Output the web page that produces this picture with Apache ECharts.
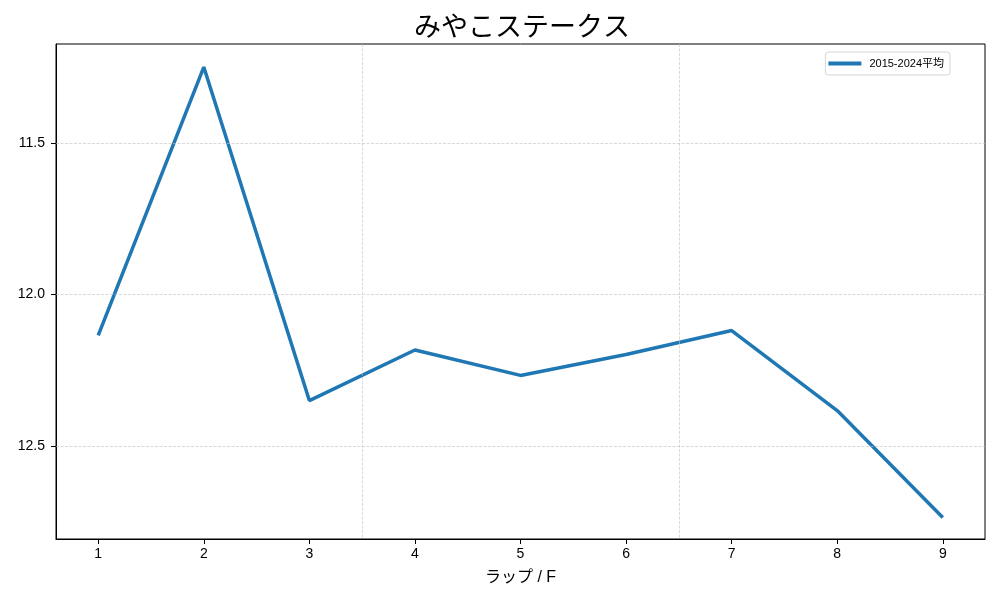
<!DOCTYPE html>
<html>
<head>
<meta charset="utf-8">
<script src="https://cdn.jsdelivr.net/npm/echarts@6/dist/echarts.min.js"></script>
<style>html,body{margin:0;padding:0;background:#fff}#c{width:1000px;height:600px}</style>
</head>
<body>
<div id="c"></div>
<script>
const laps = [1, 2, 3, 4, 5, 6, 7, 8, 9];
const avgTimes = [12.135, 11.249, 12.350, 12.183, 12.267, 12.198, 12.119, 12.383, 12.736];
const yTicks = [11.5, 12.0, 12.5];
const xGridLines = [3.5, 6.5];
const seriesName = '2015-2024平均';
const titleText = 'みやこステークス';
const xName = 'ラップ / F';

const FONT = '"Liberation Sans", "Noto Sans CJK JP", sans-serif';
const chart = echarts.init(document.getElementById('c'), null, {renderer: 'canvas'});
const gridStyle = {type: [3, 1.5], color: '#c0c0c0', width: 0.6};
chart.setOption({
  animation: false,
  backgroundColor: '#fff',
  title: {
    text: titleText, left: 517, top: 10, textAlign: 'center',
    textStyle: {fontFamily: FONT, fontSize: 27, fontWeight: 'normal', color: '#000'}
  },
  legend: {
    data: [{name: seriesName, icon: 'rect'}], right: 50, top: 52,
    orient: 'vertical',
    borderColor: '#d5d5d5', borderWidth: 1, borderRadius: 3,
    padding: [6, 6, 6, 3], backgroundColor: '#fff',
    itemWidth: 33, itemHeight: 4, itemGap: 5,
    textStyle: {fontFamily: FONT, fontSize: 11, color: '#000', padding: [0, 0, 0, 3]}
  },
  grid: {left: 56, right: 15, top: 44, bottom: 61, show: true, borderColor: '#000', borderWidth: 1, backgroundColor: 'transparent'},
  xAxis: {
    type: 'value', min: 0.6, max: 9.4,
    name: xName, nameLocation: 'middle', nameGap: 31,
    nameTextStyle: {fontFamily: FONT, fontSize: 16, color: '#000'},
    axisLine: {show: true, onZero: false, lineStyle: {color: '#000', width: 1}},
    axisTick: {show: true, length: 5, lineStyle: {color: '#000'}, customValues: laps},
    axisLabel: {fontFamily: FONT, fontSize: 14, color: '#000', margin: 8, customValues: laps},
    splitLine: {show: false}
  },
  yAxis: {
    type: 'value', inverse: true, min: 11.173, max: 12.807,
    axisLine: {show: true, onZero: false, lineStyle: {color: '#000', width: 1}},
    axisTick: {show: true, length: 5, lineStyle: {color: '#000'}, customValues: yTicks},
    axisLabel: {fontFamily: FONT, fontSize: 14, color: '#000', margin: 11, customValues: yTicks,
      formatter: v => v.toFixed(1)},
    splitLine: {show: false}
  },
  series: [
    {
      name: 'grid', type: 'line', data: [], z: 1, silent: true,
      markLine: {
        silent: true, symbol: 'none', label: {show: false}, lineStyle: gridStyle,
        data: xGridLines.map(v => ({xAxis: v})).concat(yTicks.map(v => ({yAxis: v})))
      }
    },
    {
      name: seriesName, type: 'line', z: 3,
      data: laps.map((x, i) => [x, avgTimes[i]]),
      symbol: 'none', showSymbol: false,
      lineStyle: {color: '#1f77b4', width: 3.5},
      itemStyle: {color: '#1f77b4'}
    }
  ]
});
</script>
</body>
</html>
